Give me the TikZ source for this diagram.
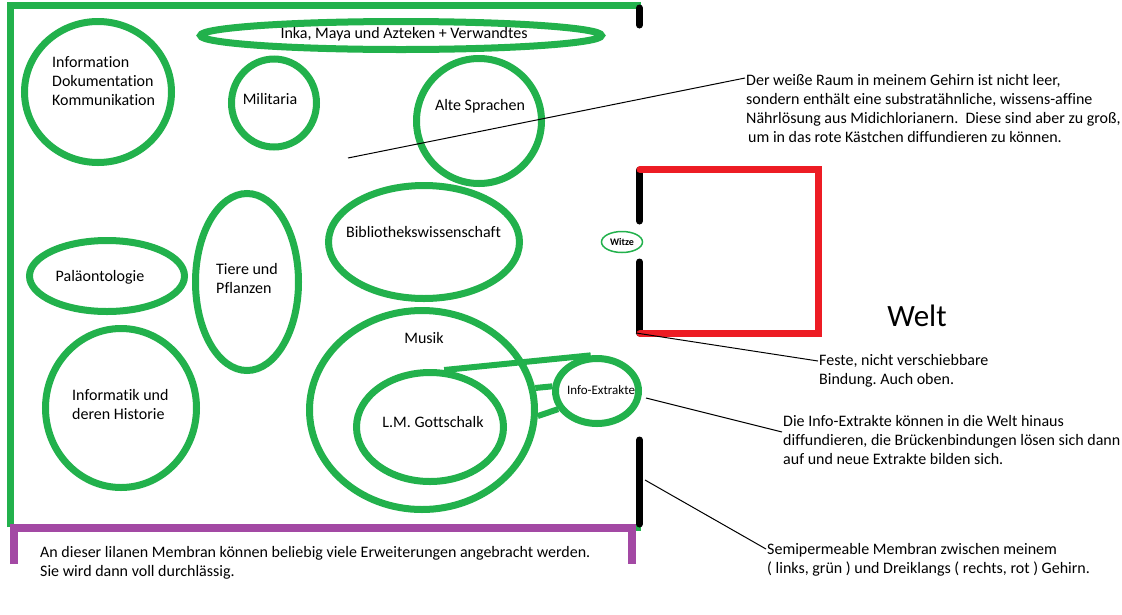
\documentclass[tikz,border=0pt]{standalone}
\usepackage{fontspec}
\setmainfont{Carlito}[Ligatures=NoCommon]
\usetikzlibrary{shapes.geometric}
\definecolor{pgreen}{HTML}{22B14C}
\definecolor{pred}{HTML}{ED1C24}
\definecolor{ppurple}{HTML}{A349A4}
\newcommand{\mlines}[1]{\begin{tabular}[t]{@{}l@{}}#1\end{tabular}}
\frenchspacing
\begin{document}
\begin{tikzpicture}[x=1pt,y=-1pt,
  blob/.style={draw=pgreen, line width=7pt, ellipse, inner sep=0pt},
  bridge/.style={draw=pgreen, line width=6pt},
  frame/.style={draw=pgreen, line width=7pt},
  lila/.style={draw=ppurple, line width=7.5pt},
  membrane/.style={draw=black, line width=7pt, line cap=round},
  redwall/.style={draw=pred, line width=7pt, line cap=round},
  leader/.style={draw=black, line width=1pt},
  txt/.style={inner sep=0pt, font=\fontsize{16}{19}\selectfont},
  ltxt/.style={txt, anchor=base west},
  ctxt/.style={txt, anchor=base}]
\useasboundingbox (0,0) rectangle (1122,614);
\fill[white] (0,0) rectangle (1122,614);

% frame
\draw[frame] (10.5,527) -- (10.5,5) -- (641,5);
\draw[frame] (10.5,527) -- (641,527);
\draw[lila] (14,564) -- (14,528) -- (632,528) -- (632,564);

% membrane
\draw[membrane] (639.5,8) -- (639.5,25);
\draw[membrane] (639.5,170) -- (639.5,221);
\draw[membrane] (639.5,262) -- (639.5,333);
\draw[membrane] (639.5,440) -- (639.5,524);
\draw[redwall] (640,169.5) -- (818.5,169.5) -- (818.5,333.5) -- (640,333.5);

% ellipses
\node[blob, minimum width=147, minimum height=141] (info) at (98,92) {};
\node[blob, minimum width=401, minimum height=28] (inka) at (401,35.5) {};
\node[blob, minimum width=85, minimum height=88] (mil) at (274,103) {};
\node[blob, minimum width=125, minimum height=125] (alte) at (479,121) {};
\node[blob, minimum width=191, minimum height=113] (bib) at (424,242) {};
\node[blob, minimum width=155, minimum height=71] (pal) at (107,276) {};
\node[blob, minimum width=103, minimum height=177] (tiere) at (247,282) {};
\node[blob, minimum width=151, minimum height=159] (inf) at (121,408) {};
\node[blob, minimum width=225, minimum height=199] (musik) at (422,410) {};
\node[blob, minimum width=147, minimum height=109] (gott) at (430,427) {};
\node[blob, minimum width=83, minimum height=65] (extr) at (597,391) {};
\node[draw=pgreen, line width=1.5pt, ellipse, inner sep=0pt, minimum width=41, minimum height=21] (witze) at (622,242) {};

% bridges
\draw[bridge] (gott.76) -- (extr.100);
\draw[bridge] (musik.11) -- (extr.174);
\draw[bridge] (musik.-3) -- (extr.205);

% labels in ellipses
\node[ltxt] (infot) at (52,67.5) {\mlines{Information\\Dokumentation\\Kommunikation}};
\node[ctxt] (inkat) at (404,38.5) {Inka, Maya und Azteken + Verwandtes};
\node[ctxt] (milt) at (270,104.5) {Militaria};
\node[ctxt] (altet) at (480,110.5) {Alte Sprachen};
\node[ctxt] (bibt) at (423.5,237.5) {Bibliothekswissenschaft};
\node[ctxt] (palt) at (100,281) {Paläontologie};
\node[ltxt] (tieret) at (216,274.5) {\mlines{Tiere und\\Pflanzen}};
\node[ltxt] (inft) at (72,400.5) {\mlines{Informatik und\\deren Historie}};
\node[ctxt] (musikt) at (424,343.5) {Musik};
\node[ctxt] (gottt) at (433,427.5) {L.M. Gottschalk};
\node[txt, anchor=base, font=\fontsize{13}{16}\selectfont] (extrt) at (601,394.5) {Info-Extrakte};
\node[txt, anchor=base, font=\fontsize{10}{12}\selectfont\bfseries] (witzet) at (622,245.5) {Witze};
\node[txt, font=\fontsize{31}{36}\selectfont] (welt) at (917,316) {Welt};

% annotations
\node[ltxt] (raum) at (746,85.5) {\mlines{Der weiße Raum in meinem Gehirn ist nicht leer,\\sondern enthält eine substratähnliche, wissens-affine\\Nährlösung aus Midichlorianern.\ \ Diese sind aber zu groß,\\\hspace{2pt}um in das rote Kästchen diffundieren zu können.}};
\node[ltxt] (feste) at (819,365.5) {\mlines{Feste, nicht verschiebbare\\Bindung. Auch oben.}};
\node[ltxt] (diff) at (783,426.5) {\mlines{Die Info-Extrakte können in die Welt hinaus\\diffundieren, die Brückenbindungen lösen sich dann\\auf und neue Extrakte bilden sich.}};
\node[ltxt] (semi) at (767,554.5) {\mlines{Semipermeable Membran zwischen meinem\\( links, grün ) und Dreiklangs ( rechts, rot ) Gehirn.}};
\node[ltxt] (lila) at (40,557.5) {\mlines{An dieser lilanen Membran können beliebig viele Erweiterungen angebracht werden.\\Sie wird dann voll durchlässig.}};

% leaders
\coordinate (raumtip) at (348,158);
\coordinate (bindtip) at (636,333);
\coordinate (extrtip) at (646,398);
\coordinate (semitip) at (645,480);
\draw[leader] (raumtip) -- ([shift={(-1,-7.5)}]raum.base west);
\draw[leader] (bindtip) -- ([shift={(-1,-4.5)}]feste.base west);
\draw[leader] (extrtip) -- ([shift={(-1,5.5)}]diff.base west);
\draw[leader] (semitip) -- ([shift={(-1,-5.5)}]semi.base west);
\end{tikzpicture}
\end{document}
